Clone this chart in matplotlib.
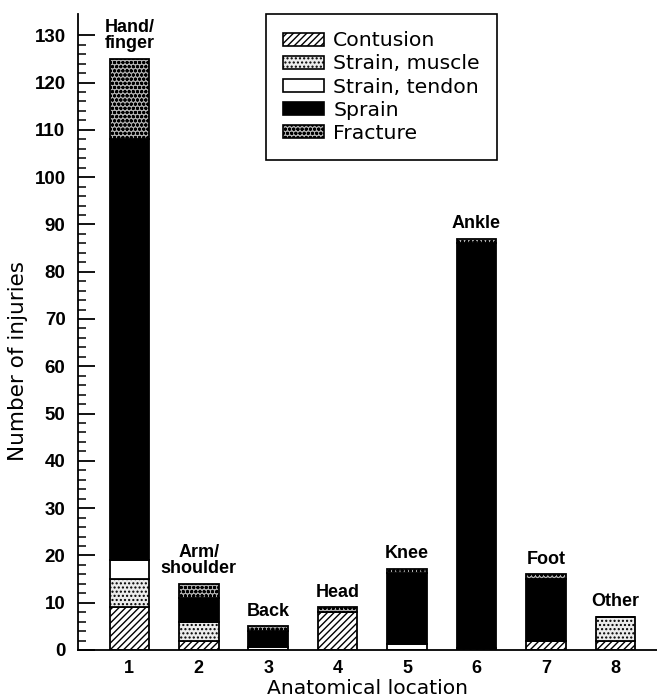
import matplotlib
matplotlib.use('Agg')
import matplotlib.pyplot as plt
from matplotlib.patches import Patch
import numpy as np

plt.rcParams['font.family'] = ['DejaVu Sans']
plt.rcParams['hatch.linewidth'] = 1.0

# data
locations = [1, 2, 3, 4, 5, 6, 7, 8]
site_labels = ['Hand/\nfinger', 'Arm/\nshoulder', 'Back', 'Head', 'Knee', 'Ankle', 'Foot', 'Other']
contusion = [9, 2, 0, 8, 0, 0.5, 2, 2]
strain_muscle = [6, 4, 0, 0, 0, 0, 0, 5]
strain_tendon = [4, 0, 0.6, 0, 1.2, 0, 0, 0]
sprain = [89, 5, 3.4, 0, 15, 85.5, 13, 0]
fracture = [17, 3, 1, 1, 1, 1, 1, 0]

series = [
    ('Contusion', contusion, dict(facecolor='white', hatch='/////')),
    ('Strain, muscle', strain_muscle, dict(facecolor='#ececec', hatch='....')),
    ('Strain, tendon', strain_tendon, dict(facecolor='white', hatch=None)),
    ('Sprain', sprain, dict(facecolor='black', hatch=None)),
    ('Fracture', fracture, dict(facecolor='#b0b0b0', hatch='oooo')),
]

bold = dict(family='Liberation Sans', fontweight='bold')

fig = plt.figure(figsize=(6.57, 6.99), dpi=100)
ax = fig.add_axes([78/657, 1 - 650/699, 1 - 78/657, (650 - 14)/699])

x = np.array(locations)
width = 0.57
bottom = np.zeros(len(x))
handles = []
for name, vals, style in series:
    vals = np.array(vals, dtype=float)
    ax.bar(x, vals, width, bottom=bottom, edgecolor='black', linewidth=1.3, **style)
    bottom += vals
    handles.append(Patch(edgecolor='black', linewidth=1.2, label=name, **style))

# labels above bars
for xi, top, lab in zip(x, bottom, site_labels):
    ax.text(xi, top + 1.4, lab, ha='center', va='bottom', fontsize=13,
            linespacing=0.95, **bold)

ax.set_xlim(0.26, 8.6)
ax.set_ylim(0, 134.5)
ax.set_xticks(x)
ax.set_xticklabels([str(v) for v in locations], fontsize=13, **bold)
ax.tick_params(axis='x', length=0, pad=7)
ax.set_yticks(np.arange(0, 131, 10))
ax.set_yticks(np.arange(0, 131, 2), minor=True)
ax.set_yticklabels([str(v) for v in range(0, 131, 10)], fontsize=13.5, **bold)
ax.tick_params(axis='y', which='major', direction='in', length=12, width=1.3, pad=9)
ax.tick_params(axis='y', which='minor', direction='in', length=6, width=1.1)

ax.spines['top'].set_visible(False)
ax.spines['right'].set_visible(False)
ax.spines['left'].set_linewidth(1.3)
ax.spines['bottom'].set_linewidth(1.3)

ax.set_xlabel('Anatomical location', fontsize=14.6, labelpad=2)
ax.set_ylabel('Number of injuries', fontsize=15.5)
ax.yaxis.set_label_coords(-0.086, 0.455)

leg = ax.legend(handles=handles, loc='upper left',
                bbox_to_anchor=(266/657, 1 - 14/699), bbox_transform=fig.transFigure,
                borderaxespad=0, fontsize=14.7, fancybox=False, framealpha=1,
                edgecolor='black', handlelength=2.0, handleheight=0.6,
                handletextpad=0.45, labelspacing=0.2, borderpad=0.85)
leg.get_frame().set_linewidth(1.2)

fig.savefig('out.png', dpi=100)
